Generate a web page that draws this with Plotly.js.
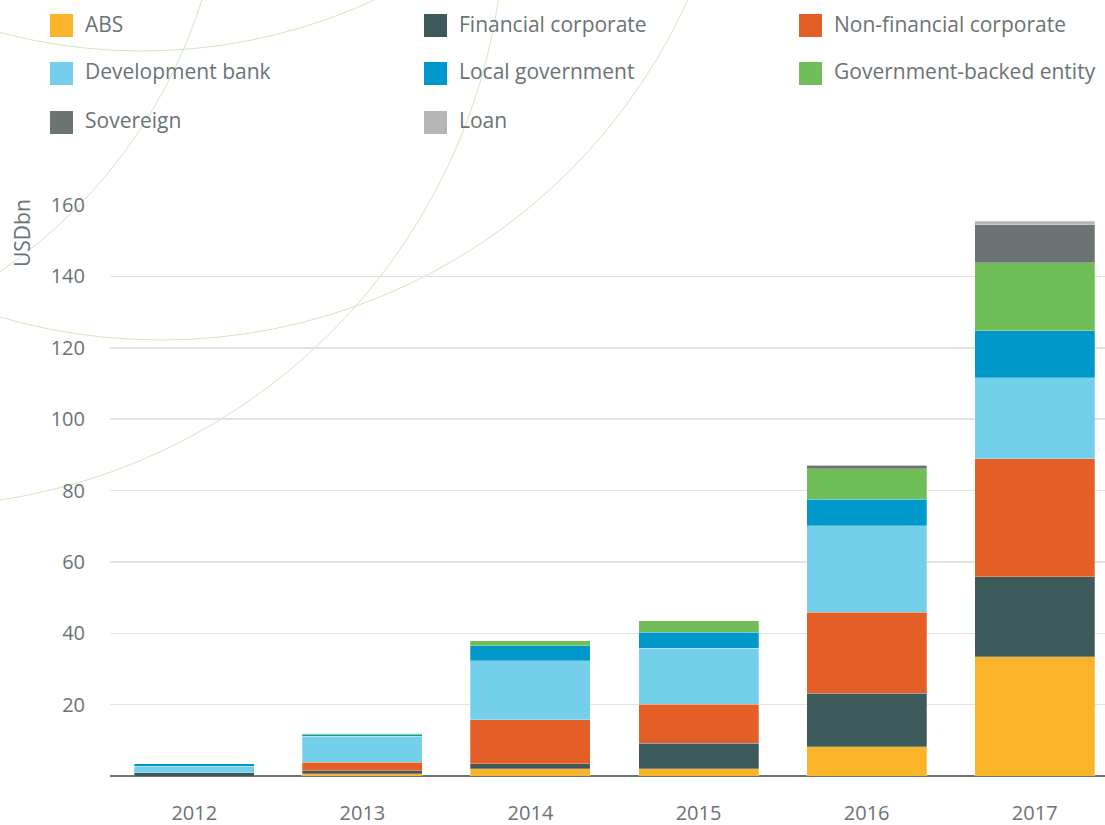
<!DOCTYPE html>
<html>
<head>
<meta charset="utf-8">
<script src="https://cdn.plot.ly/plotly-3.0.1.min.js"></script>
<style>html,body{margin:0;padding:0;background:#fff;}#chart{width:1105px;height:825px;}</style>
</head>
<body>
<div id="chart"></div>
<script>
// ---- Data (USD bn) ----
const years = ['2012', '2013', '2014', '2015', '2016', '2017'];
const seriesNames = ['ABS', 'Financial corporate', 'Non-financial corporate', 'Development bank',
  'Local government', 'Government-backed entity', 'Sovereign', 'Loan'];
const absVals        = [0,    0.6,  2.1,  2.1,  8.2,  33.35];
const financialCorp  = [0.85, 0.9,  1.4,  7.1,  15.05, 22.55];
const nonFinCorp     = [0,    2.35, 12.3, 10.85, 22.7, 33.0];
const devBank        = [1.85, 7.25, 16.5, 15.7, 24.15, 22.7];
const localGov       = [0.75, 0.45, 4.2,  4.5,  7.4,  13.2];
const govBacked      = [0,    0.5,  1.4,  3.3,  8.6,  19.0];
const sovereign      = [0,    0,    0,    0,    1.0,  10.7];
const loan           = [0,    0,    0,    0,    0,    1.0];
const yTicks = [20, 40, 60, 80, 100, 120, 140, 160];

const seriesValues = [absVals, financialCorp, nonFinCorp, devBank, localGov, govBacked, sovereign, loan];
const colors = ['#fbb42a', '#3c5a59', '#e45f27', '#74cfea', '#0098cb', '#70be57', '#6b7373', '#b7b6b7'];

const W = 1105, H = 825;
const M = {l: 110, r: 0, t: 205, b: 49};
const PW = W - M.l - M.r, PH = H - M.t - M.b;
const px2x = p => (p - M.l) / PW;
const py2y = p => (H - M.b - p) / PH;
const textColor = '#6b7374';
const FONT = '"Open Sans", "Noto Sans", sans-serif';

const traces = seriesNames.map((n, i) => ({
  type: 'bar', name: n, x: years, y: seriesValues[i],
  marker: {color: colors[i], line: {width: 0.6, color: 'rgba(255,255,255,0.45)'}},
  showlegend: false, hoverinfo: 'x+y+name'
}));

const shapes = [];
const annotations = [];

// decorative background arcs (pixel centre/radius)
const arcs = [[142, -504, 555], [161, -238, 578], [-292, -156, 518], [-90, -88, 595]];
arcs.forEach(a => {
  shapes.push({type: 'circle', xref: 'paper', yref: 'paper', layer: 'below',
    x0: px2x(a[0] - a[2]), x1: px2x(a[0] + a[2]), y0: py2y(a[1] + a[2]), y1: py2y(a[1] - a[2]),
    line: {color: '#cfe8bf', width: 1}, fillcolor: 'rgba(0,0,0,0)'});
});

// legend
const colX = [50, 424, 799];
const rowY = [25.5, 73.5, 122.5];
seriesNames.forEach((n, i) => {
  const cx = colX[i % 3], cy = rowY[Math.floor(i / 3)];
  shapes.push({type: 'rect', xref: 'paper', yref: 'paper', layer: 'above',
    x0: px2x(cx), x1: px2x(cx + 23), y0: py2y(cy + 11.5), y1: py2y(cy - 11.5),
    fillcolor: colors[i], line: {width: 0}});
  annotations.push({xref: 'paper', yref: 'paper', x: px2x(cx + 33), y: py2y(cy - 2),
    xanchor: 'left', yanchor: 'middle', showarrow: false, text: n,
    font: {family: FONT, size: 21, color: textColor}});
});

// y axis title at top of axis
annotations.push({xref: 'paper', yref: 'paper', x: px2x(22), y: py2y(233),
  xanchor: 'center', yanchor: 'middle', textangle: -90, showarrow: false, text: 'USDbn',
  font: {family: FONT, size: 21, color: textColor}});

const layout = {
  width: W, height: H, margin: M,
  paper_bgcolor: '#fff', plot_bgcolor: 'rgba(0,0,0,0)',
  barmode: 'stack', bargap: 0.286,
  font: {family: FONT, color: textColor},
  xaxis: {type: 'category', range: [-0.5015, 5.418], showgrid: false, zeroline: false,
    showline: false, ticks: 'outside', ticklen: 19, tickcolor: 'rgba(0,0,0,0)',
    tickfont: {family: FONT, size: 20, color: textColor}, fixedrange: true},
  yaxis: {range: [0, 160], tickvals: yTicks, ticktext: yTicks.map(String),
    showgrid: true, gridcolor: '#e2e2e2', gridwidth: 1.5,
    zeroline: true, zerolinecolor: '#6b7373', zerolinewidth: 2.5,
    ticks: 'outside', ticklen: 20, tickcolor: 'rgba(0,0,0,0)',
    tickfont: {family: FONT, size: 20, color: textColor}, fixedrange: true},
  shapes: shapes, annotations: annotations, showlegend: false
};

Plotly.newPlot('chart', traces, layout, {displayModeBar: false, staticPlot: true});
</script>
</body>
</html>
